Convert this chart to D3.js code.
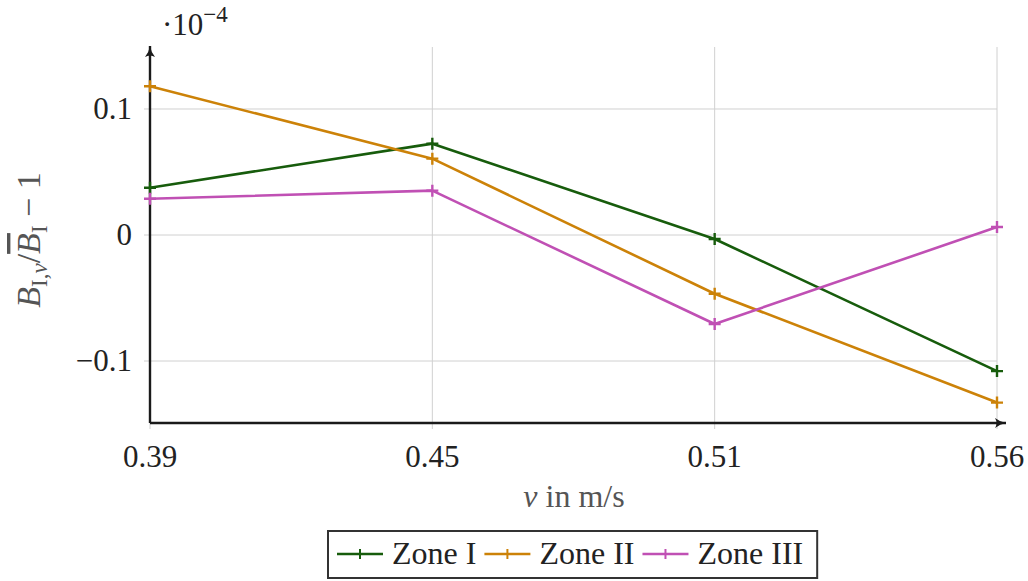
<!DOCTYPE html>
<html>
<head>
<meta charset="utf-8">
<script src="https://cdn.jsdelivr.net/npm/d3@7"></script>
<style>
  html, body { margin: 0; padding: 0; background: #fff; }
</style>
</head>
<body>
<svg id="chart" width="1028" height="581"></svg>
<script>
// Velocity categories (m/s) and relative deviation per zone (×10^-4)
const categories = ["0.39", "0.45", "0.51", "0.56"];
const zoneI   = [0.0375, 0.0725, -0.0032, -0.108];
const zoneII  = [0.118, 0.0606, -0.0466, -0.133];
const zoneIII = [0.0288, 0.0352, -0.0706, 0.0063];
const yTicks = [-0.1, 0, 0.1];
const yTickLabels = ["\u22120.1", "0", "0.1"];
const seriesNames = ["Zone I", "Zone II", "Zone III"];
const seriesColors = ["#175c0c", "#cc8208", "#c050b4"];

const FONT = "'Liberation Serif', 'Times New Roman', Times, 'DejaVu Serif', serif";
const FS = 31;

const series = [zoneI, zoneII, zoneIII].map((vals, i) => ({
  name: seriesNames[i], color: seriesColors[i],
  points: vals.map((v, j) => ({ cat: categories[j], v }))
}));

const svg = d3.select("#chart")
  .attr("font-family", FONT).style("font-family", FONT);
const plotLeft = 150, plotRight = 997, plotTop = 47, plotBottom = 423;

const x = d3.scalePoint().domain(categories).range([plotLeft, plotRight]);
const y = d3.scaleLinear().domain([-0.1492, 0.1492]).range([plotBottom, plotTop]);

// grid lines
const grid = svg.append("g").attr("stroke", "#d0d0d0").attr("stroke-width", 1);
grid.selectAll("line.h").data(yTicks).join("line")
  .attr("x1", plotLeft - 6).attr("x2", plotRight)
  .attr("y1", d => y(d)).attr("y2", d => y(d));
grid.selectAll("line.v").data(categories).join("line")
  .attr("x1", d => x(d)).attr("x2", d => x(d))
  .attr("y1", plotTop).attr("y2", plotBottom + 6);

// axes with arrow heads
const defs = svg.append("defs");
defs.append("marker").attr("id", "arrow")
  .attr("viewBox", "0 0 12 12").attr("refX", 11).attr("refY", 6)
  .attr("markerWidth", 12).attr("markerHeight", 12)
  .attr("markerUnits", "userSpaceOnUse").attr("orient", "auto")
  .append("path").attr("d", "M0,1 Q5,5 11,6 Q5,7 0,11 Q3,6 0,1 Z").attr("fill", "#1a1a1a");

const axes = svg.append("g").attr("stroke", "#1a1a1a").attr("stroke-width", 2.4).attr("fill", "none");
axes.append("line").attr("x1", plotLeft).attr("y1", plotBottom).attr("x2", plotRight + 9).attr("y2", plotBottom)
  .attr("marker-end", "url(#arrow)");
axes.append("line").attr("x1", plotLeft).attr("y1", plotBottom).attr("x2", plotLeft).attr("y2", plotTop - 1)
  .attr("marker-end", "url(#arrow)");

// tick labels
svg.append("g").selectAll("text").data(categories).join("text")
  .attr("x", d => x(d)).attr("y", 467)
  .attr("text-anchor", "middle").attr("font-size", FS).attr("fill", "#222")
  .text(d => d);

svg.append("g").selectAll("text").data(yTicks).join("text")
  .attr("x", 132).attr("y", d => y(d) + 10)
  .attr("text-anchor", "end").attr("font-size", FS).attr("fill", "#222")
  .text((d, i) => yTickLabels[i]);

// scale factor note
const sf = svg.append("text").attr("x", 162).attr("y", 35).attr("font-size", FS).attr("fill", "#222");
sf.append("tspan").text("\u00b710");
sf.append("tspan").attr("dy", -13).attr("font-size", 23).text("\u22124");

// axis titles
const xt = svg.append("text").attr("x", 574).attr("y", 507).attr("text-anchor", "middle").attr("font-size", 32).attr("fill", "#555");
xt.append("tspan").attr("font-style", "italic").text("v");
xt.append("tspan").text(" in m/s");

const yt = svg.append("text").attr("transform", "translate(40,240) rotate(-90)")
  .attr("text-anchor", "middle").attr("font-size", 34).attr("fill", "#555");
yt.append("tspan").attr("font-style", "italic").text("B");
yt.append("tspan").attr("font-size", 23).attr("dy", 7).text("I,");
yt.append("tspan").attr("font-size", 23).attr("font-style", "italic").text("v");
yt.append("tspan").attr("dy", -7).text("/");
yt.append("tspan").attr("font-style", "italic").attr("text-decoration", "overline").text("B");
yt.append("tspan").attr("font-size", 23).attr("dy", 7).text("I");
yt.append("tspan").attr("dy", -7).text(" \u2212 1");

// series lines and markers
const line = d3.line().x(d => x(d.cat)).y(d => y(d.v));
const sg = svg.append("g").selectAll("g").data(series).join("g");
sg.append("path").attr("d", d => line(d.points))
  .attr("fill", "none").attr("stroke", d => d.color).attr("stroke-width", 2.6)
  .attr("stroke-linejoin", "round");
sg.each(function(s) {
  d3.select(this).selectAll("path.m").data(s.points).join("path")
    .attr("d", d => `M${x(d.cat) - 6},${y(d.v)}h12M${x(d.cat)},${y(d.v) - 6}v12`)
    .attr("stroke", s.color).attr("stroke-width", 2.4);
});

// legend: entries laid out left to right, box fitted around them
const lg = svg.append("g");
const box = lg.append("rect").attr("y", 531).attr("height", 47)
  .attr("fill", "#fff").attr("stroke", "#333").attr("stroke-width", 2);
const ly = 554;
let cursor = 337;
series.forEach((s) => {
  lg.append("line").attr("x1", cursor).attr("x2", cursor + 46).attr("y1", ly).attr("y2", ly)
    .attr("stroke", s.color).attr("stroke-width", 2.4);
  lg.append("path").attr("d", `M${cursor + 23},${ly - 5}v10`).attr("stroke", s.color).attr("stroke-width", 2);
  const t = lg.append("text").attr("x", cursor + 55).attr("y", ly + 10)
    .attr("font-size", 32).attr("fill", "#222").text(s.name);
  cursor += 55 + t.node().getComputedTextLength() + 8;
});
box.attr("x", 328).attr("width", cursor - 328 + 6);
</script>
</body>
</html>
